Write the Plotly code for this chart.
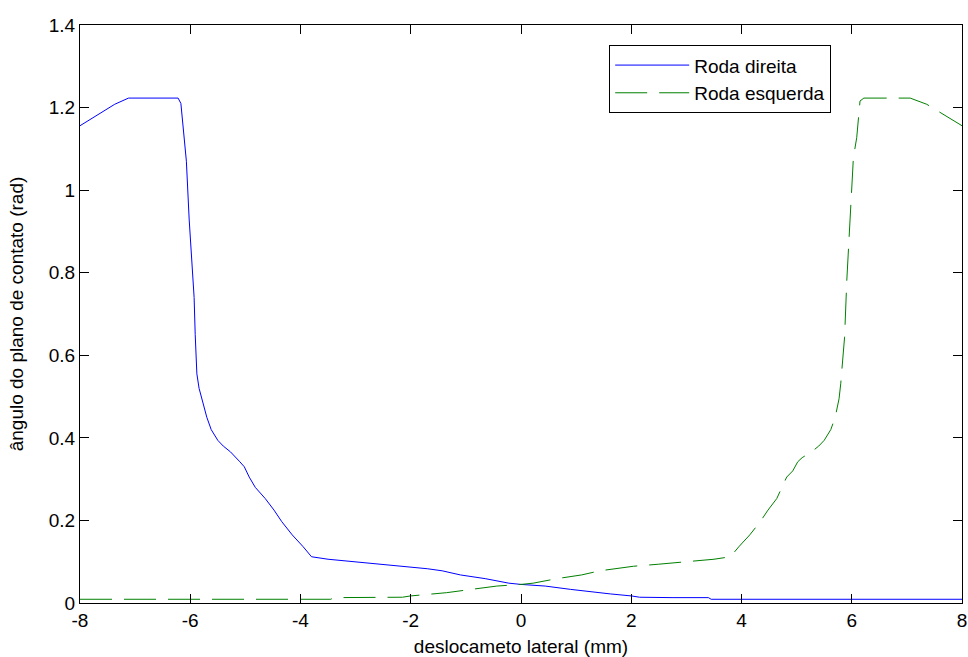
import plotly.graph_objects as go

# Roda direita (blue, solid)
x_direita = [-8.00, -7.80, -7.61, -7.37, -7.12, -6.22, -6.17, -6.13, -6.07, -6.02, -5.97,
             -5.93, -5.91, -5.88, -5.84, -5.78, -5.70, -5.62, -5.50, -5.40, -5.27, -5.10,
             -5.02, -4.93, -4.82, -4.64, -4.48, -4.34, -4.15, -3.95, -3.80, -3.50, -3.20,
             -2.88, -2.50, -2.04, -1.70, -1.43, -1.10, -0.65, -0.22, 0.00, 0.44, 0.90,
             1.35, 1.62, 2.01, 2.15, 2.74, 3.40, 3.45, 4.00, 5.00, 6.00, 7.00, 8.00]
y_direita = [1.156, 1.172, 1.188, 1.208, 1.223, 1.223, 1.210, 1.160, 1.070, 0.930, 0.810,
             0.740, 0.650, 0.555, 0.520, 0.492, 0.450, 0.420, 0.394, 0.380, 0.366, 0.342,
             0.330, 0.305, 0.280, 0.253, 0.225, 0.197, 0.165, 0.136, 0.112, 0.106, 0.102,
             0.099, 0.094, 0.088, 0.083, 0.078, 0.068, 0.059, 0.048, 0.045, 0.041, 0.033,
             0.025, 0.022, 0.017, 0.014, 0.013, 0.013, 0.009, 0.009, 0.009, 0.009, 0.009, 0.009]

# Roda esquerda (green, dashed)
x_esquerda = [-8.00, -7.00, -6.00, -5.00, -4.00, -3.45, -3.40, -2.74, -2.15, -2.01, -1.62,
              -1.35, -0.90, -0.44, 0.00, 0.22, 0.65, 1.10, 1.43, 1.70, 2.04, 2.50, 2.88,
              3.20, 3.50, 3.80, 3.95, 4.15, 4.34, 4.48, 4.64, 4.82, 4.93, 5.02, 5.10,
              5.27, 5.40, 5.50, 5.62, 5.70, 5.77, 5.80, 5.87, 5.91, 5.98, 6.03, 6.09,
              6.15, 6.22, 7.06, 7.36, 7.66, 7.80, 8.00]
y_esquerda = [0.009, 0.009, 0.009, 0.009, 0.009, 0.009, 0.013, 0.013, 0.014, 0.017, 0.022,
              0.025, 0.033, 0.041, 0.045, 0.048, 0.059, 0.068, 0.078, 0.083, 0.089, 0.094, 0.099,
              0.102, 0.106, 0.112, 0.136, 0.165, 0.197, 0.225, 0.253, 0.305, 0.320, 0.342, 0.352,
              0.366, 0.380, 0.394, 0.420, 0.450, 0.495, 0.531, 0.644, 0.781, 0.942, 1.079, 1.127,
              1.216, 1.223, 1.223, 1.208, 1.184, 1.172, 1.156]

x_tick_vals = [-8, -6, -4, -2, 0, 2, 4, 6, 8]
x_tick_text = ["-8", "-6", "-4", "-2", "0", "2", "4", "6", "8"]
y_tick_vals = [0, 0.2, 0.4, 0.6, 0.8, 1.0, 1.2, 1.4]
y_tick_text = ["0", "0.2", "0.4", "0.6", "0.8", "1", "1.2", "1.4"]

FONT = "Liberation Sans, Arial, sans-serif"
FS = 19

fig = go.Figure()
fig.add_trace(go.Scatter(x=x_direita, y=y_direita, mode="lines", name="Roda direita",
                         line=dict(color="rgb(0,0,255)", width=1)))
fig.add_trace(go.Scatter(x=x_esquerda, y=y_esquerda, mode="lines", name="Roda esquerda",
                         line=dict(color="rgb(0,128,0)", width=1, dash="32px,12px")))

axis_common = dict(showline=True, linecolor="black", linewidth=1, mirror="ticks",
                   ticks="inside", ticklen=9, tickcolor="black", tickwidth=1,
                   showgrid=False, zeroline=False,
                   tickfont=dict(family=FONT, size=FS, color="black"))

fig.update_xaxes(range=[-8, 8], tickvals=x_tick_vals, ticktext=x_tick_text,
                 title=dict(text="deslocameto lateral (mm)", standoff=10,
                            font=dict(family=FONT, size=FS, color="black")),
                 **axis_common)
fig.update_yaxes(range=[0, 1.4], tickvals=y_tick_vals, ticktext=y_tick_text,
                 title=dict(text="ângulo do plano de contato (rad)", standoff=20,
                            font=dict(family=FONT, size=FS, color="black")),
                 **axis_common)

fig.update_layout(
    width=968, height=657,
    margin=dict(l=80, r=6, t=25, b=54, autoexpand=False),
    paper_bgcolor="white", plot_bgcolor="white",
    font=dict(family=FONT, size=FS, color="black"),
    showlegend=True,
    legend=dict(x=0.6, y=0.965, xanchor="left", yanchor="top",
                bgcolor="white", bordercolor="black", borderwidth=1,
                font=dict(family=FONT, size=FS, color="black"),
                itemwidth=74, tracegroupgap=0),
)

fig.write_html("out.html",
               config={"displayModeBar": False},
               post_script="document.body.style.margin='0';document.body.style.overflow='hidden';")
